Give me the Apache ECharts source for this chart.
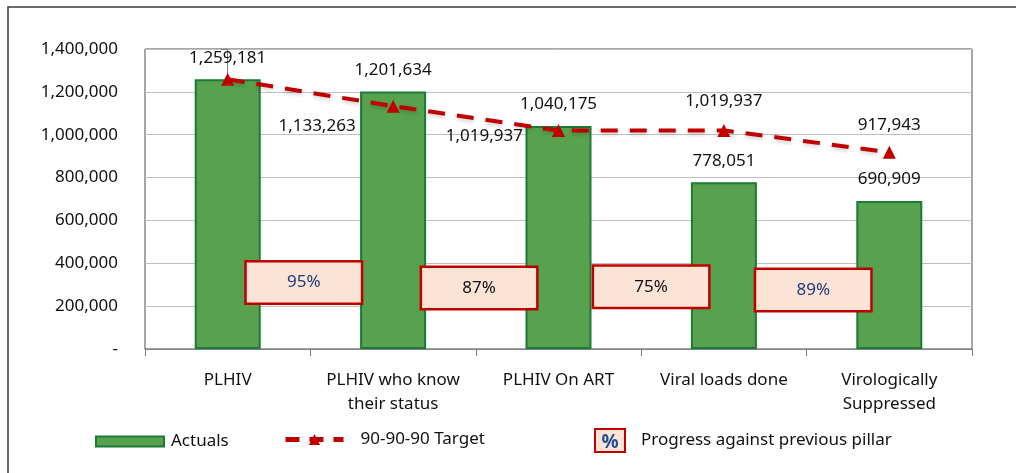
<!DOCTYPE html>
<html>
<head>
<meta charset="utf-8">
<script src="https://cdn.jsdelivr.net/npm/echarts@6/dist/echarts.min.js"></script>
<style>
  html, body { margin: 0; padding: 0; background: #fff; }
  #chart { width: 1016px; height: 473px; }
</style>
</head>
<body>
<div id="chart"></div>
<script>
// categories and values
const categories = ['PLHIV', 'PLHIV who know\ntheir status', 'PLHIV On ART', 'Viral loads done', 'Virologically\nSuppressed']
const actuals = [1259181, 1201634, 1040175, 778051, 690909]
const target = [1259181, 1133263, 1019937, 1019937, 917943]

// progress boxes sit between pillars (x in category units, y in axis units)
const progressX = [0.46, 1.52, 2.56, 3.54]
const progressY = [310000, 285000, 290000, 275000]
const progressPct = ['95%', '87%', '75%', '89%']

const yTicks = [0, 200000, 400000, 600000, 800000, 1000000, 1200000, 1400000]

const FONT = 'Noto Sans'
const FS = 17
const fmt = v => v === 0 ? '-' : v.toLocaleString('en-US')

// target label placement (first one hidden, bar label already shows it)
const targetLabel = [
  { show: false },
  { show: true, position: 'left', offset: [-26, 20] },
  { show: true, position: 'left', offset: [-24, 6] },
  { show: true, position: 'top', distance: 14 },
  { show: true, position: 'top', distance: 12 }
]
const pctColor = ['#1F3A7A', '#111', '#111', '#1F3A7A']

const pctIcon = 'image://data:image/svg+xml;utf8,' + encodeURIComponent(
  '<svg xmlns="http://www.w3.org/2000/svg" width="32" height="25">' +
  '<rect x="1" y="1" width="30" height="23" fill="#FBE3D6" stroke="#C00000" stroke-width="2"/>' +
  '<text x="16" y="20" font-family="Noto Sans" font-size="19" font-weight="bold" fill="#1F4E96" text-anchor="middle">%</text></svg>')

const chart = echarts.init(document.getElementById('chart'))

const option = {
  animation: false,
  textStyle: { fontFamily: FONT },
  graphic: [{
    type: 'rect', silent: true,
    shape: { x: 8, y: 7, width: 1030, height: 480 },
    style: { fill: 'none', stroke: '#3a3a3a', lineWidth: 1.5 }
  }],
  grid: {
    left: 145, right: 44, top: 49, bottom: 124,
    show: true, borderColor: '#4d4d4d', borderWidth: 1
  },
  legend: [
    {
      left: 90, top: 428, itemWidth: 68, itemHeight: 10, itemGap: 0,
      textStyle: { fontSize: FS, color: '#111', fontFamily: FONT, padding: [0, 0, 0, 2] },
      data: [{ name: 'Actuals', icon: 'rect' }]
    },
    {
      left: 278, top: 426, itemWidth: 58, itemHeight: 14,
      textStyle: { fontSize: FS, color: '#111', fontFamily: FONT, padding: [0, 0, 0, 12] },
      data: [{
        name: '90-90-90 Target',
        lineStyle: { width: 5, type: [14, 10], color: '#C00000' }
      }]
    },
    {
      left: 589, top: 423, itemWidth: 32, itemHeight: 25,
      textStyle: { fontSize: FS, color: '#111', fontFamily: FONT, padding: [0, 0, 0, 10] },
      data: [{ name: 'Progress against previous pillar', icon: pctIcon }]
    }
  ],
  xAxis: [
    {
      type: 'category',
      data: categories,
      axisLine: { lineStyle: { color: '#7f7f7f' } },
      axisTick: { show: true, length: 7, lineStyle: { color: '#7f7f7f' } },
      axisLabel: { interval: 0, color: '#111', fontSize: FS, margin: 19, lineHeight: 24, fontFamily: FONT }
    },
    { type: 'value', min: -0.5, max: 4.5, show: false }
  ],
  yAxis: {
    type: 'value',
    min: 0, max: 1400000, interval: 200000,
    axisLine: { show: true, lineStyle: { color: '#7f7f7f' } },
    axisTick: { show: true, length: 7, lineStyle: { color: '#7f7f7f' } },
    splitLine: { lineStyle: { color: '#bfbfbf' } },
    axisLabel: {
      color: '#111', fontSize: FS, margin: 27, fontFamily: FONT,
      formatter: v => yTicks.includes(v) ? fmt(v) : ''
    }
  },
  series: [
    {
      name: 'Actuals',
      type: 'bar',
      data: actuals,
      barWidth: 66,
      itemStyle: { color: '#58A14E', borderColor: '#1B7A35', borderWidth: 2 },
      label: {
        show: true, position: 'top', distance: 13,
        color: '#111', fontSize: FS, fontFamily: FONT,
        formatter: p => fmt(p.value)
      },
      z: 2
    },
    {
      name: '90-90-90 Target',
      type: 'line',
      data: target.map((v, i) => ({ value: v, label: targetLabel[i] })),
      symbol: 'triangle',
      symbolSize: 13,
      itemStyle: { color: '#C00000' },
      lineStyle: {
        color: '#C00000', width: 4, type: [17, 12],
        shadowBlur: 4, shadowColor: 'rgba(0,0,0,0.2)', shadowOffsetY: 2
      },
      label: {
        color: '#111', fontSize: FS, fontFamily: FONT,
        formatter: p => fmt(p.value)
      },
      z: 4
    },
    {
      name: 'Progress against previous pillar',
      type: 'scatter',
      xAxisIndex: 1,
      data: progressX.map((x, i) => ({
        value: [x, progressY[i]],
        label: { color: pctColor[i] }
      })),
      symbol: 'rect',
      symbolSize: 1,
      itemStyle: { color: '#FBE3D6', opacity: 1 },
      label: {
        show: true, position: 'inside', fontSize: FS, fontFamily: FONT,
        backgroundColor: '#FBE3D6', borderColor: '#C00000', borderWidth: 2.5,
        width: 114, height: 40, lineHeight: 40, align: 'center',
        formatter: p => progressPct[p.dataIndex]
      },
      z: 5
    }
  ]
}

chart.setOption(option)
</script>
</body>
</html>
